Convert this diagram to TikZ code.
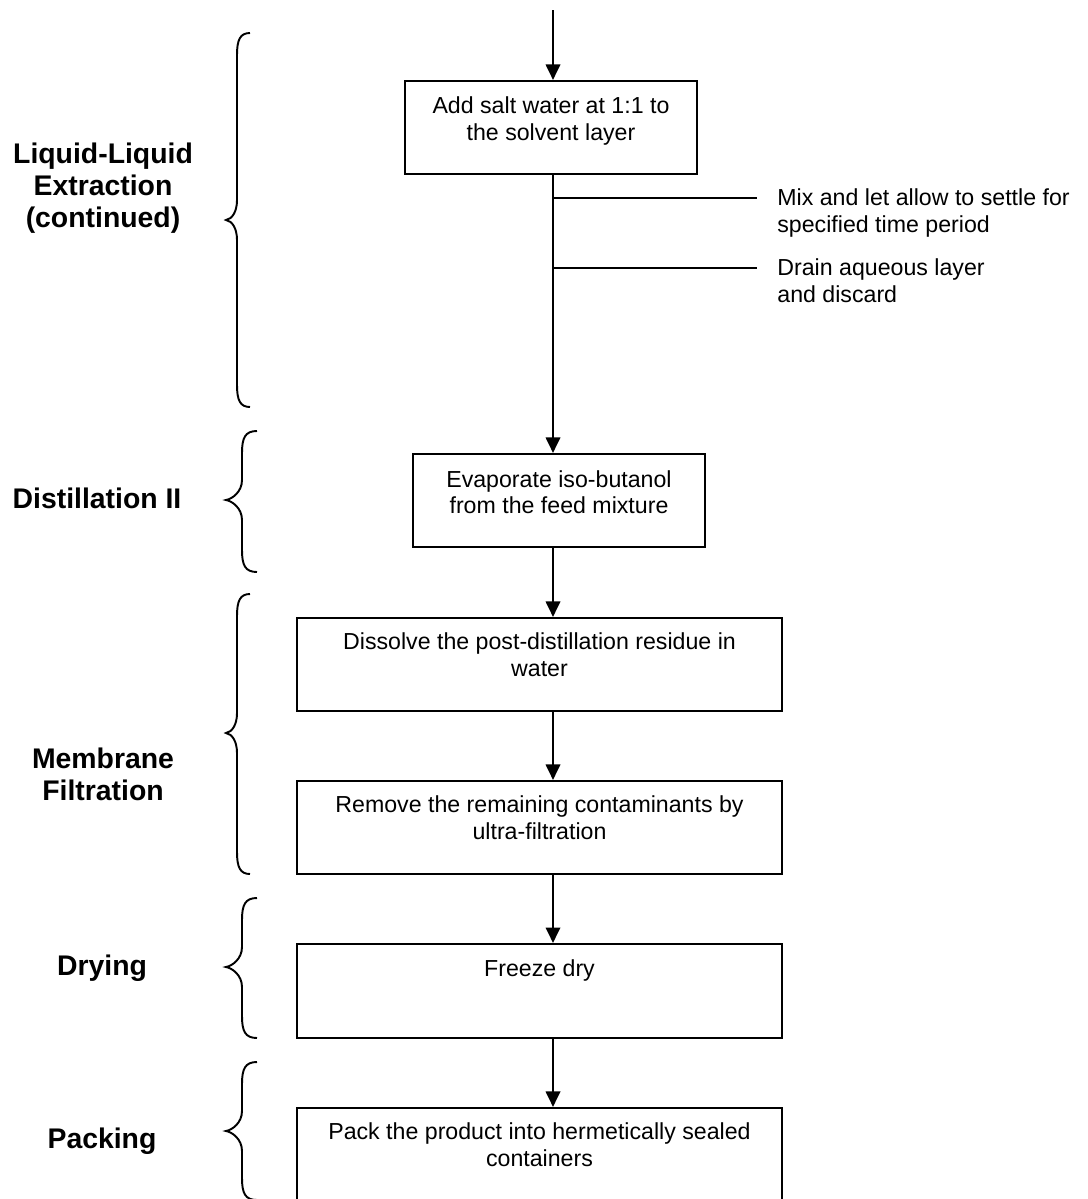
\documentclass[tikz,border=0pt]{standalone}
\usepackage{fontspec}
\setmainfont{Liberation Sans}
\usetikzlibrary{arrows.meta}
\newcommand{\grpbrace}[6]{% #1 end x, #2 stem x, #3 tip x, #4 top y, #5 tip y, #6 bottom y
  \draw[bracestyle] (#1,#4) .. controls ({#2+3},#4) and (#2,{#4+7}) .. (#2,{#4+22})
   -- (#2,{#5-20}) .. controls (#2,{#5-8}) and ({#3+6},{#5-1}) .. (#3,#5)
   .. controls ({#3+6},{#5+1}) and (#2,{#5+8}) .. (#2,{#5+20})
   -- (#2,{#6-22}) .. controls (#2,{#6-7}) and ({#2+3},#6) .. (#1,#6);}
\begin{document}
\begin{tikzpicture}[x=0.518pt,y=-0.518pt,
  box/.style={draw, line width=1.1pt, inner sep=0pt, minimum height=48.2pt},
  smallbox/.style={box, minimum width=151.3pt},
  widebox/.style={box, minimum width=251.2pt},
  conn/.style={line width=1pt},
  arr/.style={conn, -{Triangle[length=8pt,width=7.5pt]}},
  btxt/.style={font=\fontsize{12}{13.8}\selectfont, align=center, inner sep=0pt},
  stxt/.style={font=\fontsize{12}{13.8}\selectfont, align=left, inner sep=0pt, anchor=west},
  lbl/.style={font=\bfseries\fontsize{14.7}{16.8}\selectfont, align=center, inner sep=0pt},
  bracestyle/.style={line width=1pt}]
\useasboundingbox (0,0) rectangle (1088,1199);

% boxes
\node[smallbox] (b1) at (551,127.5) {};
\node[smallbox] (b2) at (559,500.5) {};
\node[widebox] (b3) at (539.5,664.5) {};
\node[widebox] (b4) at (539.5,827.5) {};
\node[widebox, minimum height=48.7pt] (b5) at (539.5,991) {};
\node[widebox] (b6) at (539.5,1154.5) {};

% box texts
\node[btxt] (t1) at (551,121.5) {\strut Add salt water at 1:1 to\\the solvent layer\strut};
\node[btxt] (t2) at (559,495) {\strut Evaporate iso-butanol\\from the feed mixture\strut};
\node[btxt] (t3) at (539.5,657.5) {\strut Dissolve the post-distillation residue in\\water\strut};
\node[btxt] (t4) at (539.5,820.5) {\strut Remove the remaining contaminants by\\ultra-filtration\strut};
\node[btxt] (t5) at (539.5,971) {\strut Freeze dry};
\node[btxt] (t6) at (539.5,1147.5) {\strut Pack the product into hermetically sealed\\containers\strut};

% side notes
\node[stxt] (s1) at (777,213.5) {\strut Mix and let allow to settle for\\specified time period\strut};
\node[stxt] (s2) at (777,283.5) {\strut Drain aqueous layer\\and discard\strut};

% connectors
\coordinate (start) at (553,10);
\coordinate (m1) at (553,198);
\coordinate (e1) at (757,198);
\coordinate (m2) at (553,268);
\coordinate (e2) at (757,268);
\draw[arr] (start) -- (b1.north -| start);
\draw[arr] (b1.south -| start) -- (b2.north -| start);
\draw[conn] (m1) -- (e1);
\draw[conn] (m2) -- (e2);
\draw[arr] (b2.south -| start) -- (b3.north -| start);
\draw[arr] (b3.south -| start) -- (b4.north -| start);
\draw[arr] (b4.south -| start) -- (b5.north -| start);
\draw[arr] (b5.south -| start) -- (b6.north -| start);

% braces
\grpbrace{250}{237}{226}{33}{220}{407}
\grpbrace{257}{242}{226}{431}{500}{572}
\grpbrace{250}{237}{226}{594}{733}{874}
\grpbrace{257}{242}{226}{898}{967}{1038}
\grpbrace{257}{242}{226}{1062}{1131}{1200}

% stage labels
\node[lbl] (l1) at (103,189) {\strut Liquid-Liquid\\Extraction\\(continued)\strut};
\node[lbl] (l2) at (97,502) {\strut Distillation II};
\node[lbl] (l3) at (103,778) {\strut Membrane\\Filtration\strut};
\node[lbl] (l4) at (102,969) {\strut Drying};
\node[lbl] (l5) at (102,1142) {\strut Packing};
\end{tikzpicture}
\end{document}
